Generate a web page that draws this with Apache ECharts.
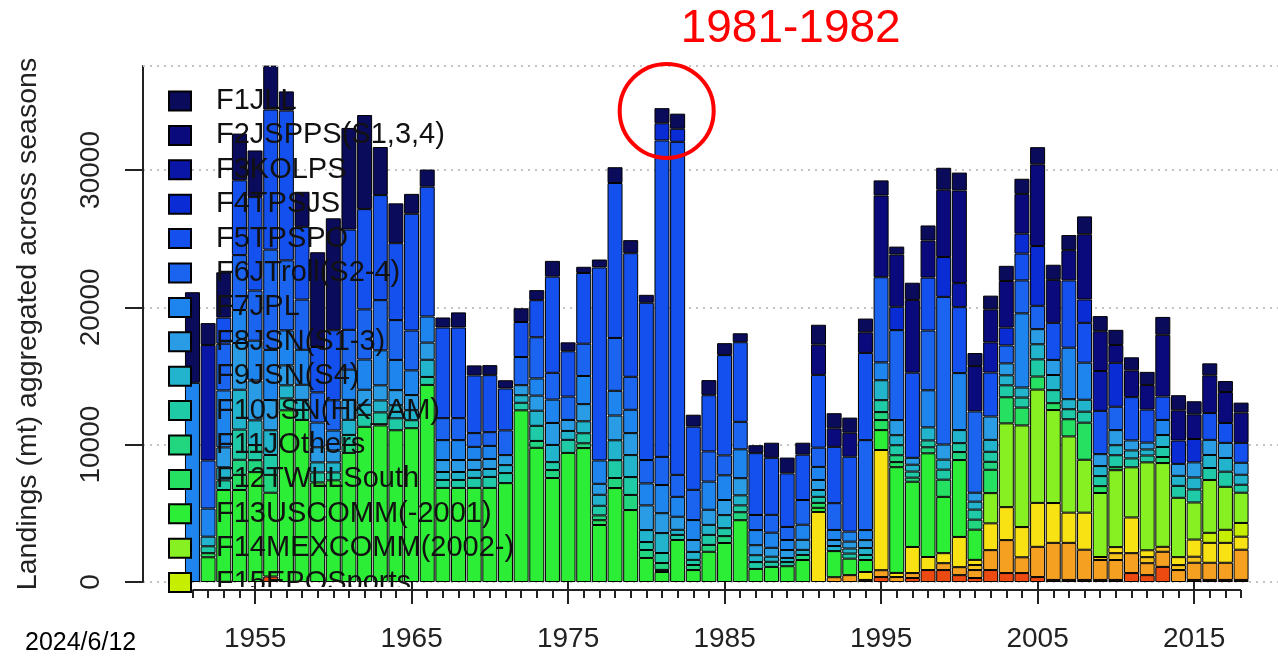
<!DOCTYPE html>
<html><head><meta charset="utf-8">
<script src="https://cdn.jsdelivr.net/npm/echarts@6/dist/echarts.min.js"></script>
<style>html,body{margin:0;padding:0;background:#fff}#c{width:1278px;height:656px}</style>
</head><body><div id="c"></div>
<script>
const years = [1951,1952,1953,1954,1955,1956,1957,1958,1959,1960,
1961,1962,1963,1964,1965,1966,1967,1968,1969,1970,
1971,1972,1973,1974,1975,1976,1977,1978,1979,1980,
1981,1982,1983,1984,1985,1986,1987,1988,1989,1990,
1991,1992,1993,1994,1995,1996,1997,1998,1999,2000,
2001,2002,2003,2004,2005,2006,2007,2008,2009,2010,
2011,2012,2013,2014,2015,2016,2017,2018];

const xMajorTicks = [1955,1965,1975,1985,1995,2005,2015];
const yTicks = [0,10000,20000,30000];

const F1 = [6600,1600,3300,3400,3400,3200,1400,2550,6900,8150,
7400,6850,3500,2900,1450,1250,730,1100,730,730,
600,1000,730,1150,650,450,580,1150,950,580,
1100,1100,870,1100,870,650,580,1100,1150,870,
1450,1100,1100,1000,1100,580,1250,1100,1600,1300,
950,1000,1100,1100,1250,1100,1100,1300,1100,1100,
950,950,1300,1100,950,870,800,730];
const F2 = [0,0,0,0,0,0,0,0,0,0,
0,0,0,0,0,0,0,0,0,0,
0,0,0,0,0,0,0,0,0,0,
0,0,0,0,0,0,0,0,0,0,
2200,1350,1750,1500,5950,3800,5300,2700,4900,6750,
3300,2400,3400,2900,5950,3130,2200,4750,2900,1300,
1950,1800,4500,2200,1800,2750,2250,2200];
const F3 = [0,8400,0,0,0,0,0,0,0,0,
0,0,0,0,0,0,0,0,0,0,
0,0,0,0,0,0,0,0,0,0,
0,0,0,0,0,0,0,0,0,0,
0,0,0,0,0,0,0,0,0,1750,
0,2200,0,0,0,0,0,0,2900,0,
0,0,0,0,0,0,0,0];
const F4 = [0,0,0,0,0,0,0,0,0,0,
0,0,0,0,0,0,0,0,0,0,
0,0,0,0,0,0,0,0,0,0,
1250,950,0,0,0,0,0,0,0,0,
0,0,0,0,0,1700,0,0,2900,0,
0,0,1300,1450,4350,0,0,1700,0,3200,
0,0,0,1700,1700,0,0,0];
const F5 = [0,0,1900,5450,6800,10200,10900,5300,3300,5100,
7300,7300,7650,5600,8500,9450,6600,6600,4200,4150,
3050,2550,2700,7000,3300,5150,14050,11280,9000,11450,
23040,24250,4600,4090,7300,5800,4500,4150,3900,3300,
5300,4100,5450,6350,0,0,6200,3850,0,4800,
0,3200,0,1950,0,2700,4900,2900,3150,0,
3150,2400,1700,0,0,1950,1450,1450];
const F6 = [0,3500,3400,4000,3650,7300,5100,3650,2200,2200,
2900,3650,3650,2900,2900,0,1600,1600,1000,1000,
1800,2050,3000,1950,1700,2350,0,3850,2400,1700,
2050,1600,2200,2200,1450,2000,1100,1300,950,1800,
1400,1950,0,6550,6200,6550,0,4350,10750,0,
5920,0,1300,2400,1700,0,0,0,0,1700,
0,0,0,0,0,0,0,0];
const F7 = [14500,2050,4150,2400,2900,3650,2550,2550,1800,1450,
2200,2200,2550,2200,1800,1900,1450,1450,950,950,
0,0,1250,1700,0,2050,1700,1800,1700,1600,
2050,1450,1450,2050,1800,2100,1100,1100,730,1100,
950,730,730,730,1300,0,0,2700,0,4150,
0,0,0,5400,0,0,3750,2700,0,0,
0,0,1100,0,0,0,0,0];
const F8 = [0,0,1450,3400,2900,2200,1450,1100,1100,870,
1450,1100,1100,1100,1100,1250,870,870,730,730,
730,730,1100,1600,800,1250,800,1800,1600,1800,
1450,950,870,1100,1100,1250,730,650,580,730,
730,440,500,580,0,1100,500,0,1100,0,
650,1700,870,0,1100,1100,0,0,870,1100,
730,500,0,870,1100,1100,1100,870];
const F9 = [0,700,950,2900,1800,1800,950,730,730,730,
1100,730,870,950,730,1250,580,580,580,580,
580,550,1100,1250,650,870,800,1450,1600,870,
1450,370,580,730,950,730,500,370,300,370,
500,370,370,500,1450,730,500,950,730,950,
580,870,730,730,1100,1100,730,870,730,730,
580,440,870,730,870,950,1000,730];
const F10 = [0,500,700,2200,1100,1450,870,730,730,580,
730,870,950,870,580,580,580,580,730,800,
730,550,1100,580,950,730,700,1300,1300,580,
730,370,370,730,580,500,500,370,300,0,
440,0,370,370,870,730,440,500,730,650,
730,730,870,730,1250,950,730,800,730,870,
650,500,730,870,950,870,1100,580];
const F11 = [0,0,0,1100,870,1300,0,0,0,0,
580,0,0,0,0,0,0,0,0,0,
0,0,500,580,0,350,350,730,1100,580,
500,0,370,500,500,580,0,0,0,370,
0,0,0,0,580,500,300,440,0,580,
730,580,0,0,0,0,0,0,0,0,
0,0,440,0,0,0,0,0];
const F12 = [0,300,0,1100,0,0,0,0,0,0,
0,0,0,0,0,0,0,0,0,0,
0,0,0,0,0,0,350,0,0,0,
150,0,0,0,0,0,0,0,0,0,
360,0,0,0,730,370,0,0,1250,0,
0,1700,1900,1300,950,500,1250,2700,500,220,
0,0,0,0,0,0,0,0];
const F13 = [0,1800,6700,6700,8000,6100,12500,11800,7250,7400,
9400,11300,11400,11050,11200,14350,6850,6850,6850,6850,
7200,12500,9770,7570,9400,9750,4150,6840,5240,1750,
730,3060,870,2200,2840,4500,950,1100,1150,1600,
300,1900,1200,870,1450,7700,4750,7550,4100,5600,
2200,0,0,0,0,0,0,0,0,0,
0,0,0,0,0,0,0,0];
const F14 = [0,0,0,0,0,0,0,0,0,0,
0,0,0,0,0,0,0,0,0,0,
0,0,0,0,0,0,0,0,0,0,
0,0,0,0,0,0,0,0,0,0,
0,0,0,0,0,0,0,0,0,0,
0,2200,6100,7400,8250,6770,5550,3850,4660,5600,
3650,6400,6100,4320,2700,3850,3130,2200];
const F15 = [0,0,0,0,0,0,0,0,0,0,
0,0,0,0,0,0,0,0,0,0,
0,0,0,0,0,0,0,0,0,0,
0,0,0,0,0,0,0,0,0,0,
0,0,0,0,0,0,0,0,0,0,
0,0,0,0,0,0,0,0,0,0,
0,0,0,0,0,730,950,1000];
const F16 = [0,0,0,0,0,0,0,0,0,0,
0,0,0,0,0,0,0,0,0,0,
0,0,0,0,0,0,0,0,0,0,
0,0,0,0,0,0,0,0,0,0,
5100,0,0,580,8750,300,1900,950,730,2200,
370,1950,2400,2200,3200,2900,2200,2700,0,440,
2600,500,0,580,1250,1450,1450,950];
const F17 = [0,0,0,0,0,0,0,0,0,0,
0,0,0,0,0,0,0,0,0,0,
0,0,0,0,0,0,0,0,0,0,
0,0,0,0,0,0,0,0,0,0,
0,0,0,0,0,0,0,0,0,0,
370,0,0,0,0,0,0,0,220,500,
0,440,360,360,440,0,0,0];
const F18 = [0,0,0,0,0,0,0,0,0,0,
0,0,0,0,0,0,0,0,0,0,
0,0,0,0,0,0,0,0,0,0,
0,0,0,0,0,0,0,0,0,0,
0,350,500,150,500,360,360,0,500,580,
580,1450,2400,1150,2200,2700,2700,2200,1450,1450,
1450,870,1100,870,1250,1250,1250,2200];
const F19 = [0,0,0,0,0,400,0,0,0,0,
0,0,0,0,0,0,0,0,0,0,
0,0,0,0,0,0,0,0,0,0,
0,0,0,0,0,0,0,0,0,0,
0,0,0,0,360,0,290,870,870,500,
290,870,650,650,360,150,150,150,150,150,
650,500,1100,0,150,150,150,150];

const fleetNames = ['F1JLL','F2JSPPS(S1,3,4)','F3KOLPS','F4TPSJS','F5TPSPO','F6JTroll(S2-4)','F7JPL',
  'F8JSN(S1-3)','F9JSN(S4)','F10JSN(HK_AM)','F11JOthers','F12TWLLSouth','F13USCOMM(-2001)',
  'F14MEXCOMM(2002-)','F15EPOSports','F16','F17','F18','F19'];
const fleetData = [F1,F2,F3,F4,F5,F6,F7,F8,F9,F10,F11,F12,F13,F14,F15,F16,F17,F18,F19];
const fleetColors = ['#0b0b5c','#0a0a7c','#0a16a6','#0a2cd4','#1450ee','#1a64f0','#1e84ee',
  '#2a9ce6','#22b4cc','#1fcaa6','#22d680','#26e062','#2cee36','#86f022','#c6ee00',
  '#f8e214','#f5c41a','#f5a020','#ec4a10'];

const Y_MAX = 37570;
const X_MIN = 1947.84, X_MAX = 2020.36;
const FONT = '"Liberation Sans", Arial, sans-serif';

const chart = echarts.init(document.getElementById('c'), null, {renderer:'canvas'});

// Step 1: the frame grid with R-style year axis and value axis
const frameOption = {
  animation: false,
  backgroundColor: '#fff',
  textStyle: {fontFamily: FONT},
  grid: [{left: 143, right: 0, top: 66, bottom: 74}],
  xAxis: [{
    gridIndex: 0, type: 'value', min: X_MIN, max: X_MAX, position: 'bottom', offset: 8, z: 10,
    axisLine: {show: false}, splitLine: {show: false},
    axisTick: {show: true, length: 22, customValues: xMajorTicks, lineStyle: {color: '#222', width: 2}},
    axisLabel: {customValues: xMajorTicks, fontSize: 28, color: '#222', margin: 35, fontFamily: FONT,
      formatter: v => String(v)}
  }, {
    gridIndex: 0, type: 'value', min: X_MIN, max: X_MAX, position: 'bottom', offset: 8, z: 10,
    axisLine: {show: false}, splitLine: {show: false},
    axisTick: {show: true, length: 8, customValues: years, lineStyle: {color: '#222', width: 2}},
    axisLabel: {show: false}
  }],
  yAxis: [{
    gridIndex: 0, type: 'value', min: 0, max: Y_MAX, interval: 10000,
    axisLine: {show: true, lineStyle: {color: '#222', width: 2}},
    axisTick: {show: true, length: 18, customValues: yTicks, lineStyle: {color: '#222', width: 2}},
    axisLabel: {customValues: yTicks, rotate: 90, fontSize: 28, color: '#222', margin: 38, fontFamily: FONT,
      formatter: v => String(v)},
    splitLine: {show: true, lineStyle: {type: [2, 5], color: '#c4c4c4', width: 2}},
    name: 'Landings (mt) aggregated across seasons', nameLocation: 'middle', nameGap: 100,
    nameTextStyle: {fontSize: 28.5, color: '#222', fontFamily: FONT}
  }],
  series: [{
    type: 'line', xAxisIndex: 0, yAxisIndex: 0, data: [], silent: true,
    markLine: {silent: true, symbol: 'none', label: {show: false},
      lineStyle: {type: [2, 5], color: '#c4c4c4', width: 2}, data: [{yAxis: Y_MAX}]}
  }]
};
chart.setOption(frameOption);

// Step 2: bar grid aligned with the year scale of the frame
const leftPx = chart.convertToPixel({xAxisIndex: 0}, years[0] - 0.5);
const rightPx = chart.convertToPixel({xAxisIndex: 0}, years[years.length - 1] + 0.5);

const barSeries = [];
for (let k = fleetData.length - 1; k >= 0; k--) {
  const arr = fleetData[k];
  barSeries.push({
    name: fleetNames[k], type: 'bar', stack: 'all', barWidth: 15,
    xAxisIndex: 2, yAxisIndex: 1,
    itemStyle: {color: fleetColors[k], borderColor: '#000', borderWidth: 1},
    emphasis: {disabled: true},
    data: arr.map(v => v > 0 ? v : null)
  });
}

chart.setOption({
  grid: [{left: 143, right: 0, top: 66, bottom: 74},
         {left: leftPx, width: rightPx - leftPx, top: 66, bottom: 74}],
  xAxis: [frameOption.xAxis[0], frameOption.xAxis[1], {
    gridIndex: 1, type: 'category', data: years.map(String), boundaryGap: true,
    axisLine: {show: false}, axisTick: {show: false}, axisLabel: {show: false}, splitLine: {show: false}
  }],
  yAxis: [frameOption.yAxis[0], {
    gridIndex: 1, type: 'value', min: 0, max: Y_MAX, show: false, splitLine: {show: false}
  }],
  legend: {
    data: fleetNames.slice(0, 15),
    orient: 'vertical', left: 168, top: 86.5, padding: 0,
    itemWidth: 22, itemHeight: 19, itemGap: 5.4,
    icon: 'rect', selectedMode: false, z: 4,
    textStyle: {fontSize: 29, lineHeight: 29, color: '#111', fontFamily: FONT, padding: [0, 0, 0, 20]}
  },
  series: [frameOption.series[0]].concat(barSeries)
});

// decorations positioned through the chart's own scales
const pA = chart.convertToPixel({gridIndex: 0}, [1951, 0]);
const pB = chart.convertToPixel({gridIndex: 0}, [2018, 0]);
const pC = chart.convertToPixel({gridIndex: 0}, [1981.3, 34300]);
chart.setOption({
  graphic: [
    {type: 'rect', z: 6, shape: {x: 196, y: pA[1] + 5, width: 240, height: 30}, style: {fill: '#fff'}},
    {type: 'line', z: 12, shape: {x1: pA[0], y1: pA[1] + 8, x2: pB[0], y2: pB[1] + 8},
      style: {stroke: '#222', lineWidth: 2}},
    {type: 'circle', z: 12, shape: {cx: pC[0], cy: pC[1], r: 47},
      style: {fill: 'none', stroke: '#ff0000', lineWidth: 4}},
    {type: 'text', z: 12, x: pC[0] + 124, y: pC[1] - 82,
      style: {text: '1981-1982', fill: '#ff0000', font: '46px ' + FONT, textAlign: 'center', textVerticalAlign: 'middle'}},
    {type: 'text', z: 12, left: 25, top: 631,
      style: {text: '2024/6/12', fill: '#000', font: '25px ' + FONT}}
  ]
});
</script></body></html>
